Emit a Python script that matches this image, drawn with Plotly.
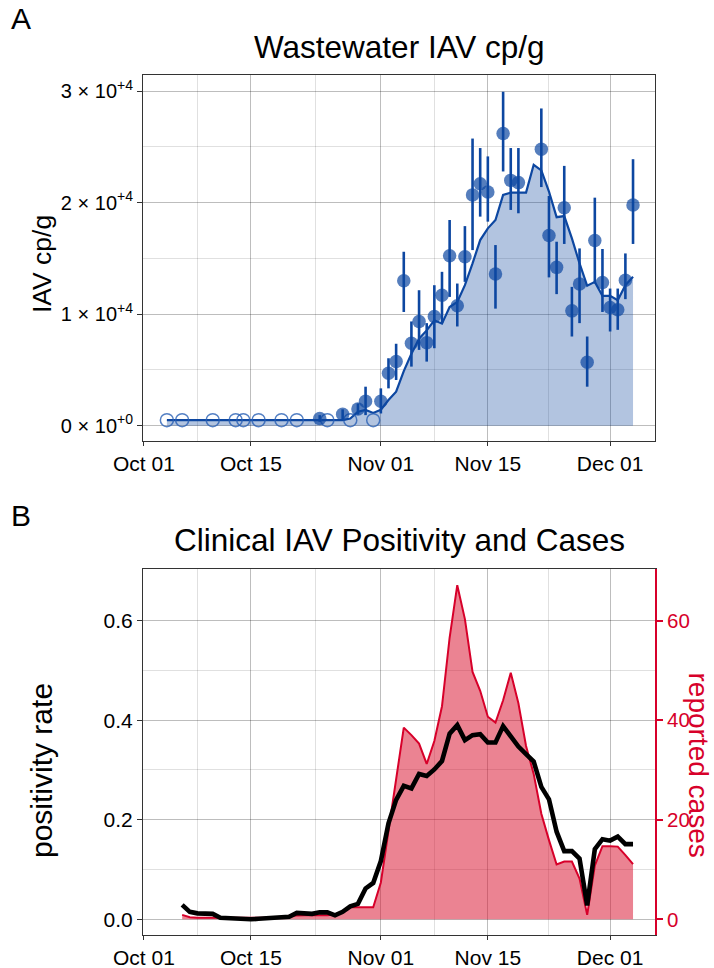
import plotly.graph_objects as go
import pandas as pd

# ---------------- Panel A data ----------------
nd_dates = ["2023-10-04", "2023-10-06", "2023-10-10", "2023-10-13", "2023-10-14",
            "2023-10-16", "2023-10-19", "2023-10-21", "2023-10-25", "2023-10-28",
            "2023-10-31"]
nd_values = [500] * len(nd_dates)

obs_dates = ["2023-10-24", "2023-10-27", "2023-10-29", "2023-10-30", "2023-11-01",
             "2023-11-02", "2023-11-03", "2023-11-04", "2023-11-05", "2023-11-06",
             "2023-11-07", "2023-11-08", "2023-11-09", "2023-11-10", "2023-11-11",
             "2023-11-12", "2023-11-13", "2023-11-14", "2023-11-15", "2023-11-16",
             "2023-11-17", "2023-11-18", "2023-11-19", "2023-11-22", "2023-11-23",
             "2023-11-24", "2023-11-25", "2023-11-26", "2023-11-27", "2023-11-28",
             "2023-11-29", "2023-11-30", "2023-12-01", "2023-12-02", "2023-12-03",
             "2023-12-04"]
obs_values = [650, 1020, 1500, 2200, 2200, 4700, 5750, 13000, 7400, 9350,
              7450, 9800, 11700, 15250, 10750, 15150, 20700, 21700, 20950, 13600,
              26200, 22000, 21800, 24800, 17050, 14200, 19550, 10300, 12700, 5700,
              16600, 12850, 10600, 10400, 13050, 19800]
obs_upper = [950, 1470, 2000, 3500, 3350, 6050, 7350, 15600, 9350, 12150,
             9200, 12600, 13800, 18450, 12750, 17900, 25750, 24900, 24150, 16200,
             29950, 24900, 24900, 28450, 20600, 16500, 23300, 12450, 15900, 8000,
             20450, 15850, 12300, 12300, 15450, 23900]
obs_lower = [350, 570, 1000, 950, 1100, 3350, 4100, 10200, 5300, 6800,
             5750, 6950, 9200, 11550, 8900, 12900, 15750, 18750, 18300, 10500,
             22800, 19350, 19050, 21400, 13300, 11800, 16300, 8000, 9200, 3500,
             12750, 10200, 8450, 8600, 11350, 16300]

smooth_dates = pd.date_range("2023-10-04", "2023-12-04", freq="D")
smooth_values = [500, 500, 500, 500, 500, 500, 500, 500, 500, 500,
                 500, 500, 500, 500, 500, 500, 500, 500, 500, 500,
                 500, 500, 500, 500, 650, 1250, 1420, 1150, 1430, 2300,
                 3050, 4900, 6450, 7800, 8550, 9450, 9150, 10650, 11100, 12600,
                 14550, 16650, 17700, 18450, 20700, 20900, 20900, 20900, 23400, 22900,
                 21000, 18700, 18800, 16800, 14550, 12550, 12900, 11650, 11650, 11250,
                 12600, 13350]

# ---------------- Panel B data ----------------
clin_dates = pd.date_range("2023-10-06", "2023-12-04", freq="D")
positivity = [0.029, 0.015, 0.012, 0.011, 0.011, 0.003, 0.002, 0.001, 0.000, 0.000,
              0.001, 0.002, 0.002, 0.003, 0.005, 0.013, 0.011, 0.011, 0.014, 0.014,
              0.008, 0.015, 0.026, 0.031, 0.062, 0.073, 0.117, 0.193, 0.240, 0.268,
              0.263, 0.292, 0.288, 0.301, 0.318, 0.373, 0.390, 0.360, 0.370, 0.372,
              0.355, 0.355, 0.388, 0.368, 0.347, 0.332, 0.317, 0.266, 0.241, 0.176,
              0.137, 0.137, 0.122, 0.028, 0.141, 0.161, 0.158, 0.166, 0.151, 0.151]
cases = [0.9, 0.4, 0.3, 0.3, 0.3, 0.3, 0.3, 0.3, 0.3, 0.3,
         0.3, 0.3, 0.3, 0.3, 0.7, 0.8, 0.8, 0.8, 0.8, 0.8,
         1.0, 1.6, 2.4, 2.4, 2.4, 2.4, 7.4, 18.0, 28.2, 38.5,
         37.0, 35.3, 31.2, 35.8, 42.8, 56.6, 67.1, 60.3, 49.7, 45.9,
         40.7, 39.5, 44.0, 49.5, 43.4, 34.8, 29.2, 21.2, 15.9, 11.0,
         11.6, 11.6, 8.2, 0.9, 10.8, 14.7, 14.7, 14.6, 12.9, 11.1]

x_tickvals = ["2023-10-01", "2023-10-15", "2023-11-01", "2023-11-15", "2023-12-01"]
x_ticktext = ["Oct 01", "Oct 15", "Nov 01", "Nov 15", "Dec 01"]
x_minor = ["2023-10-08", "2023-10-23 12:00", "2023-11-08", "2023-11-23"]

yA_tickvals = [0, 10000, 20000, 30000]
yA_ticktext = ["0 × 10<sup>+0</sup>", "1 × 10<sup>+4</sup>",
               "2 × 10<sup>+4</sup>", "3 × 10<sup>+4</sup>"]
yA_minor = [5000, 15000, 25000]
yB_tickvals = [0.0, 0.2, 0.4, 0.6]
yB_ticktext = ["0.0", "0.2", "0.4", "0.6"]
yB_minor = [0.1, 0.3, 0.5]
yC_tickvals = [0, 20, 40, 60]

# ---------------- styling ----------------
W, H = 714, 968
FONT = "Liberation Sans, Arial, sans-serif"
BLUE = "#0D47A1"
RED = "#D7002A"
MAJ = "rgba(0,0,0,0.26)"
MIN = "rgba(0,0,0,0.12)"
AXC = "#333333"

xdom = [143 / W, 655 / W]
ydomA = [1 - 441 / H, 1 - 75 / H]
ydomB = [1 - 935 / H, 1 - 569.3 / H]
xrange_ = ["2023-09-30 21:00", "2023-12-06 21:00"]

fig = go.Figure()

fig.add_trace(go.Scatter(
    x=smooth_dates, y=smooth_values, mode="lines", fill="tozeroy",
    fillcolor="rgba(16,70,160,0.32)", line=dict(color=BLUE, width=2.2),
    xaxis="x", yaxis="y", showlegend=False, hoverinfo="skip"))
fig.add_trace(go.Scatter(
    x=nd_dates, y=nd_values, mode="markers",
    marker=dict(symbol="circle-open", size=13, color="rgba(40,95,180,0.8)",
                line=dict(width=1.5)),
    xaxis="x", yaxis="y", showlegend=False))
fig.add_trace(go.Scatter(
    x=obs_dates, y=obs_values, mode="markers",
    marker=dict(size=13.5, color="rgba(13,71,161,0.70)", line=dict(width=0)),
    error_y=dict(type="data", symmetric=False,
                 array=[u - v for u, v in zip(obs_upper, obs_values)],
                 arrayminus=[v - l for v, l in zip(obs_values, obs_lower)],
                 color=BLUE, thickness=2.6, width=0),
    xaxis="x", yaxis="y", showlegend=False))

fig.add_trace(go.Scatter(
    x=clin_dates, y=cases, mode="lines", fill="tozeroy",
    fillcolor="rgba(218,20,50,0.53)", line=dict(color=RED, width=2),
    xaxis="x2", yaxis="y2", showlegend=False))
fig.add_trace(go.Scatter(
    x=clin_dates, y=positivity, mode="lines",
    line=dict(color="black", width=4.6),
    xaxis="x2", yaxis="y3", showlegend=False))

xcommon = dict(
    type="date", range=xrange_, domain=xdom, automargin=False,
    tickmode="array", tickvals=x_tickvals, ticktext=x_ticktext,
    ticks="outside", ticklen=4, tickwidth=1, tickcolor=AXC,
    tickfont=dict(family=FONT, size=21, color="black"),
    showgrid=True, gridcolor=MAJ, gridwidth=1,
    minor=dict(tickmode="array", tickvals=x_minor, showgrid=True,
               gridcolor=MIN, gridwidth=1, ticks=""),
    showline=True, linecolor=AXC, linewidth=1, mirror=True,
    zeroline=False,
)

fig.update_layout(
    width=W, height=H,
    margin=dict(l=0, r=0, t=0, b=0, pad=0, autoexpand=False),
    paper_bgcolor="white", plot_bgcolor="white",
    font=dict(family=FONT, color="black"),
    showlegend=False,
    xaxis=dict(**xcommon, anchor="y"),
    yaxis=dict(
        domain=ydomA, range=[-1370, 31450], anchor="x", automargin=False,
        tickmode="array", tickvals=yA_tickvals, ticktext=yA_ticktext,
        ticks="outside", ticklen=5, tickcolor=AXC,
        tickfont=dict(family=FONT, size=20, color="black"),
        showgrid=True, gridcolor=MAJ,
        minor=dict(tickmode="array", tickvals=yA_minor, showgrid=True,
                   gridcolor=MIN, ticks=""),
        showline=True, linecolor=AXC, mirror=True, zeroline=False),
    xaxis2=dict(**xcommon, anchor="y2"),
    yaxis2=dict(
        domain=ydomB, range=[-3.15, 70.3], anchor="x2", side="right",
        automargin=False,
        tickmode="array", tickvals=yC_tickvals,
        ticks="outside", ticklen=6, tickcolor=RED, tickwidth=1.5,
        tickfont=dict(family=FONT, size=20.5, color=RED),
        showgrid=False, showline=True, linecolor=RED, linewidth=2,
        zeroline=False),
    yaxis3=dict(
        domain=ydomB, range=[-0.0315, 0.703], anchor="x2", overlaying="y2",
        side="left", automargin=False,
        tickmode="array", tickvals=yB_tickvals, ticktext=yB_ticktext,
        ticks="outside", ticklen=5, tickcolor=AXC,
        tickfont=dict(family=FONT, size=21, color="black"),
        showgrid=True, gridcolor=MAJ,
        minor=dict(tickmode="array", tickvals=yB_minor, showgrid=True,
                   gridcolor=MIN, ticks=""),
        showline=True, linecolor=AXC, zeroline=False),
)

ann = [
    dict(text="A", x=9 / W, y=1 - 19 / H, xanchor="left", yanchor="middle",
         font=dict(size=30)),
    dict(text="Wastewater IAV cp/g", x=399 / W, y=1 - 47 / H, xanchor="center",
         yanchor="middle", font=dict(size=31.5)),
    dict(text="B", x=9 / W, y=1 - 515 / H, xanchor="left", yanchor="middle",
         font=dict(size=30)),
    dict(text="Clinical IAV Positivity and Cases", x=399 / W, y=1 - 540 / H,
         xanchor="center", yanchor="middle", font=dict(size=31.5)),
    dict(text="IAV cp/g", x=42 / W, y=1 - 264 / H, xanchor="center",
         yanchor="middle", textangle=-90, font=dict(size=26.5)),
    dict(text="positivity rate", x=41 / W, y=1 - 771 / H, xanchor="center",
         yanchor="middle", textangle=-90, font=dict(size=30)),
    dict(text="reported cases", x=698.5 / W, y=1 - 765 / H, xanchor="center",
         yanchor="middle", textangle=90, font=dict(size=28, color=RED)),
]
for a in ann:
    a.update(xref="paper", yref="paper", showarrow=False)
    a["font"] = dict(family=FONT, **a["font"])
fig.update_layout(annotations=ann)

fig.write_html(
    "out.html",
    config={"displayModeBar": False},
    post_script="document.body.style.margin='0';document.body.style.padding='0';",
)
